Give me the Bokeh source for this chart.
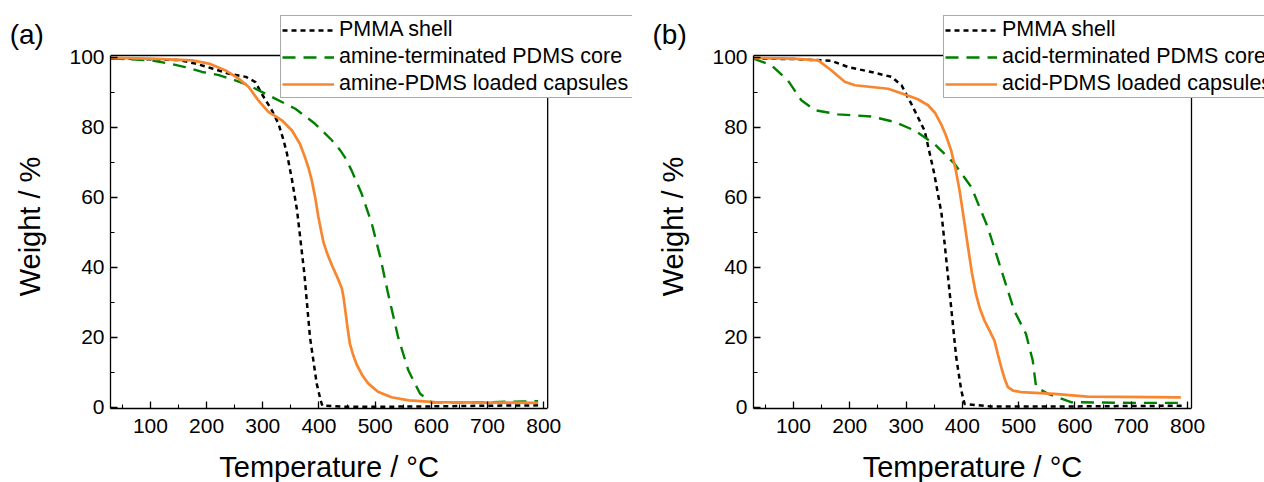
import math
from bokeh.plotting import figure
from bokeh.models import FixedTicker, Legend, LegendItem, Label, Range1d
from bokeh.layouts import row
from bokeh.embed import file_html
from bokeh.resources import INLINE

FONT = "Liberation Sans"

# ---------------- data: panel (a) ----------------
temp_a_pmma = [29, 100, 150, 180, 210, 240, 270, 287, 298, 316, 328, 337, 343, 352, 361, 374, 384, 396, 403, 406, 450, 500, 600, 700, 790]
weight_a_pmma = [99.7, 99.4, 99.2, 98.2, 96.8, 95.3, 94.4, 92.9, 89.6, 84.9, 81.0, 76.3, 72.5, 65.0, 56.3, 38.2, 20.1, 6.8, 2.0, 0.5, 0.2, 0.2, 0.3, 0.5, 0.6]

temp_a_core = [29, 103, 133, 162, 192, 222, 251, 275, 298, 322, 358, 393, 423, 438, 446, 458, 476, 494, 509, 523, 541, 559, 580, 600, 700, 790]
weight_a_core = [99.7, 99.1, 98.2, 97.2, 95.8, 94.9, 93.4, 92.0, 90.1, 88.2, 85.3, 81.0, 76.3, 73.4, 71.5, 67.7, 61.0, 52.5, 43.0, 32.5, 20.0, 10.6, 3.9, 1.5, 1.5, 1.8]

temp_a_caps = [29, 100, 174, 204, 233, 257, 275, 292, 310, 334, 352, 366, 375, 381, 387, 393, 399, 404, 408, 415, 423, 431, 437, 441, 444, 447, 451, 455, 461, 467, 477, 488, 505, 529, 560, 606, 700, 790]
weight_a_caps = [99.8, 99.6, 99.1, 98.2, 96.3, 93.9, 91.5, 87.7, 84.4, 82.0, 79.1, 75.3, 71.5, 68.6, 65.0, 60.2, 54.4, 50.3, 47.2, 43.8, 40.6, 37.8, 35.5, 33.8, 31.2, 27.5, 22.6, 18.2, 14.9, 12.3, 9.2, 6.8, 4.5, 2.9, 2.0, 1.5, 1.4, 1.3]

# ---------------- data: panel (b) ----------------
temp_b_pmma = [29, 100, 167, 197, 238, 274, 292, 309, 333, 350, 363, 371, 380, 389, 398, 404, 450, 600, 790]
weight_b_pmma = [99.6, 99.5, 99.0, 97.2, 95.8, 94.4, 92.0, 86.8, 79.0, 66.8, 55.3, 42.9, 28.7, 14.4, 4.9, 1.0, 0.3, 0.3, 0.5]

temp_b_core = [29, 61, 90, 114, 138, 179, 238, 280, 315, 350, 386, 416, 445, 475, 492, 513, 525, 531, 552, 593, 700, 790]
weight_b_core = [99.6, 97.7, 93.4, 87.7, 84.9, 83.7, 83.1, 81.5, 79.1, 75.3, 69.6, 62.9, 51.5, 36.3, 27.7, 21.0, 13.4, 5.8, 3.9, 1.5, 1.3, 1.3]

temp_b_caps = [29, 100, 144, 167, 191, 209, 268, 303, 321, 339, 352, 362, 371, 380, 388, 395, 403, 410, 417, 424, 431, 439, 448, 457, 463, 469, 475, 481, 490, 504, 563, 622, 788]
weight_b_caps = [99.8, 99.6, 99.1, 96.3, 93.0, 92.0, 91.0, 89.1, 88.0, 86.3, 84.0, 81.0, 77.6, 73.4, 68.0, 62.0, 53.5, 45.8, 38.4, 32.5, 28.3, 24.9, 22.0, 19.1, 15.2, 11.5, 8.2, 5.8, 4.8, 4.4, 3.9, 3.1, 2.9]

x_ticks = [100, 200, 300, 400, 500, 600, 700, 800]
x_minor = [50, 150, 250, 350, 450, 550, 650, 750]
y_ticks = [0, 20, 40, 60, 80, 100]
y_minor = [10, 30, 50, 70, 90]

labels_a = ["PMMA shell", "amine-terminated PDMS core", "amine-PDMS loaded capsules"]
labels_b = ["PMMA shell", "acid-terminated PDMS core", "acid-PDMS loaded capsules"]
x_title = "Temperature / °C"
y_title = "Weight / %"

BLACK = "#000000"
GREEN = "#008000"
ORANGE = "#F7862F"

# plot box (axes limits) in data units
X0, X1 = 29, 807
Y0, Y1 = -0.3, 100.5

# geometry (pixels, within each 632x482 figure)
FIG_W, FIG_H = 632, 482
BOX_W, BOX_H = 438, 353          # drawn axes box
BOX_TOP = 55
BOX_BOTTOM = BOX_TOP + BOX_H     # 408
FRAME_TOP = 12                    # frame reaches up so the legend is not clipped


def make_panel(tag, box_left, series, labels, legend_left_px, tag_left_px):
    border_bottom = FIG_H - BOX_BOTTOM
    frame_w = FIG_W - box_left
    frame_h = FIG_H - FRAME_TOP - border_bottom
    sx = (X1 - X0) / BOX_W
    sy = (Y1 - Y0) / BOX_H
    px2x = lambda px: X0 + (px - box_left) * sx
    py2y = lambda py: Y0 + (BOX_BOTTOM - py) * sy

    p = figure(width=FIG_W, height=FIG_H, output_backend="svg", toolbar_location=None,
               x_range=Range1d(X0, X0 + frame_w * sx), y_range=Range1d(Y0, Y0 + frame_h * sy),
               min_border_left=box_left, min_border_right=0,
               min_border_top=FRAME_TOP, min_border_bottom=border_bottom)
    p.grid.visible = False
    p.outline_line_color = None
    p.background_fill_color = "white"
    p.border_fill_color = "white"

    p.xaxis.ticker = FixedTicker(ticks=x_ticks, minor_ticks=x_minor)
    p.yaxis.ticker = FixedTicker(ticks=y_ticks, minor_ticks=y_minor)
    p.xaxis.bounds = (X0, X1)
    p.yaxis.bounds = (Y0, Y1)
    for ax in (p.xaxis, p.yaxis):
        ax.axis_line_width = 1.3
        ax.axis_line_color = "black"
        ax.major_tick_in = 7
        ax.major_tick_out = 0
        ax.minor_tick_in = 4
        ax.minor_tick_out = 0
        ax.major_tick_line_width = 1.3
        ax.minor_tick_line_width = 1.1
        ax.major_label_text_font = FONT
        ax.major_label_text_font_size = "21px"
        ax.major_label_text_color = "black"
    p.xaxis.major_label_standoff = 10
    p.yaxis.major_label_standoff = 6

    # top and right edges of the axes box
    p.segment(x0=[X0, X1], y0=[Y1, Y0], x1=[X1, X1], y1=[Y1, Y1],
              line_color="black", line_width=1.3)

    styles = [
        dict(color=BLACK, line_width=2.5, line_dash="5 4"),
        dict(color=GREEN, line_width=2.4, line_dash="13 8"),
        dict(color=ORANGE, line_width=2.7, line_dash="solid"),
    ]
    renderers = []
    for (xs, ys), st in zip(series, styles):
        r = p.line(xs, ys, line_color=st["color"], line_width=st["line_width"],
                   line_dash=st["line_dash"])
        renderers.append(r)

    legend = Legend(
        items=[LegendItem(label=lab, renderers=[r]) for lab, r in zip(labels, renderers)],
        location=(legend_left_px - box_left, BOX_BOTTOM - 98),
        label_text_font=FONT, label_text_font_size="21.5px", label_text_color="black",
        glyph_width=52, glyph_height=24, label_height=24, label_width=294, label_standoff=5,
        padding=1, spacing=2, margin=0,
        border_line_color="#555555", border_line_width=1,
        background_fill_color="white", background_fill_alpha=1.0,
    )
    p.add_layout(legend)

    # axis titles and panel tag, placed in the side panels (not clipped to the frame)
    p.add_layout(Label(x=(X0 + X1) / 2, y=py2y(466), text=x_title,
                       text_font=FONT, text_font_size="29px", text_color="black",
                       text_align="center", text_baseline="middle"), "below")
    p.add_layout(Label(x=px2x(box_left - 80.5), y=py2y(226), text=y_title, angle=math.pi / 2,
                       text_font=FONT, text_font_size="29px", text_color="black",
                       text_align="center", text_baseline="middle"), "left")
    p.add_layout(Label(x=px2x(tag_left_px), y=py2y(34), text=tag,
                       text_font=FONT, text_font_size="28px", text_color="black",
                       text_align="left", text_baseline="middle"), "left")
    return p


p1 = make_panel("(a)", 109,
                [(temp_a_pmma, weight_a_pmma), (temp_a_core, weight_a_core), (temp_a_caps, weight_a_caps)],
                labels_a, 279, 8)
p2 = make_panel("(b)", 121,
                [(temp_b_pmma, weight_b_pmma), (temp_b_core, weight_b_core), (temp_b_caps, weight_b_caps)],
                labels_b, 311, 20)

layout = row(p1, p2, spacing=0)
open("out.html", "w").write(file_html(layout, INLINE))
